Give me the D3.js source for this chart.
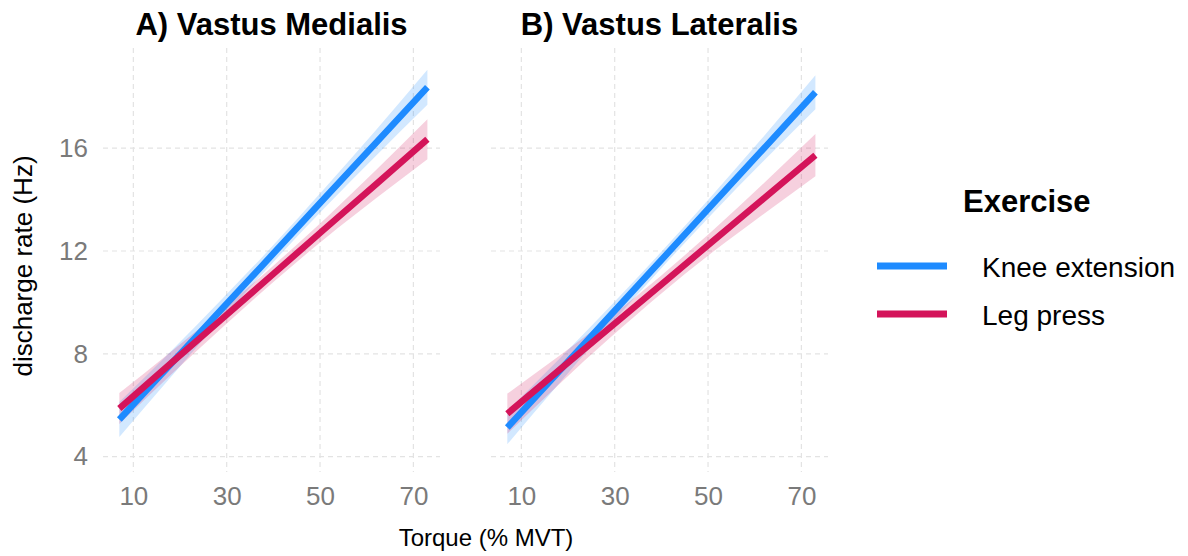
<!DOCTYPE html>
<html>
<head>
<meta charset="utf-8">
<script src="https://cdn.jsdelivr.net/npm/d3@7"></script>
<style>
  body { margin: 0; background: #fff; }
  text { font-family: "Liberation Sans", Arial, sans-serif; }
</style>
</head>
<body>
<div id="chart"></div>
<script>
// chart data
var torque = [7, 18, 29, 40, 51, 62, 73];

var vmKneeFit = [5.44, 7.59, 9.75, 11.90, 14.06, 16.21, 18.37];
var vmKneeHw  = [0.68, 0.50, 0.38, 0.33, 0.38, 0.50, 0.68];
var vmLegFit  = [5.87, 7.62, 9.36, 11.11, 12.86, 14.60, 16.35];
var vmLegHw   = [0.60, 0.45, 0.35, 0.32, 0.38, 0.55, 0.78];

var vlKneeFit = [5.13, 7.30, 9.48, 11.65, 13.83, 16.00, 18.18];
var vlKneeHw  = [0.65, 0.48, 0.36, 0.32, 0.36, 0.48, 0.66];
var vlLegFit  = [5.67, 7.35, 9.02, 10.70, 12.38, 14.05, 15.73];
var vlLegHw   = [0.78, 0.55, 0.40, 0.35, 0.42, 0.60, 0.82];

var xTicks = [10, 30, 50, 70];
var yTicks = [4, 8, 12, 16];
var exercises = ["Knee extension", "Leg press"];
var colors = ["#1E8BFF", "#D4145A"];

var panels = [
  { title: "A) Vastus Medialis", left: 103, series: [[vmKneeFit, vmKneeHw], [vmLegFit, vmLegHw]] },
  { title: "B) Vastus Lateralis", left: 491, series: [[vlKneeFit, vlKneeHw], [vlLegFit, vlLegHw]] }
];

var svgWidth = 1188, svgHeight = 556;
var panelW = 337, panelTop = 48, panelBottom = 472;

var svg = d3.select("#chart").append("svg")
  .attr("width", svgWidth)
  .attr("height", svgHeight);

var y = d3.scaleLinear().domain([3.4, 19.9]).range([panelBottom, panelTop]);

panels.forEach(function(p) {
  var x = d3.scaleLinear().domain([3.5, 75.7]).range([p.left, p.left + panelW]);
  var g = svg.append("g");

  // grid
  g.selectAll(".vgrid").data(xTicks).enter().append("line")
    .attr("x1", d => x(d)).attr("x2", d => x(d))
    .attr("y1", panelTop).attr("y2", panelBottom)
    .attr("stroke", "#e3e3e3").attr("stroke-width", 1.2)
    .attr("stroke-dasharray", "5,4");
  g.selectAll(".hgrid").data(yTicks).enter().append("line")
    .attr("x1", p.left).attr("x2", p.left + panelW)
    .attr("y1", d => y(d)).attr("y2", d => y(d))
    .attr("stroke", "#e3e3e3").attr("stroke-width", 1.2)
    .attr("stroke-dasharray", "5,4");

  // x tick labels
  var xAxis = d3.axisBottom(x).tickValues(xTicks).tickSize(0).tickPadding(0);
  var xa = g.append("g").attr("transform", `translate(0, 505)`).call(xAxis);
  xa.select(".domain").remove();
  xa.selectAll("text").attr("font-size", 26).attr("fill", "#7a7a7a")
    .attr("dy", 0).attr("y", 0);

  // ribbons then lines
  p.series.forEach(function(s, i) {
    var pts = torque.map((t, k) => ({ t: t, f: s[0][k], hw: s[1][k] }));
    var area = d3.area().curve(d3.curveMonotoneX)
      .x(d => x(d.t)).y0(d => y(d.f - d.hw)).y1(d => y(d.f + d.hw));
    g.append("path").datum(pts)
      .attr("d", area)
      .attr("fill", colors[i]).attr("fill-opacity", 0.2);
  });
  p.series.forEach(function(s, i) {
    var pts = torque.map((t, k) => ({ t: t, f: s[0][k] }));
    var line = d3.line().x(d => x(d.t)).y(d => y(d.f));
    g.append("path").datum(pts)
      .attr("d", line)
      .attr("fill", "none")
      .attr("stroke", colors[i]).attr("stroke-width", 6.5);
  });

  // panel title
  svg.append("text")
    .attr("x", p.left + panelW / 2).attr("y", 35)
    .attr("text-anchor", "middle")
    .attr("font-size", 31).attr("font-weight", "bold")
    .text(p.title);
});

// y tick labels (left panel only)
var yAxis = d3.axisLeft(y).tickValues(yTicks).tickSize(0).tickPadding(0);
var ya = svg.append("g").attr("transform", "translate(88, 0)").call(yAxis);
ya.select(".domain").remove();
ya.selectAll("text").attr("font-size", 26).attr("fill", "#7a7a7a");

// axis titles
svg.append("text")
  .attr("transform", "rotate(-90)")
  .attr("x", -266).attr("y", 32)
  .attr("text-anchor", "middle")
  .attr("font-size", 26)
  .text("discharge rate (Hz)");

svg.append("text")
  .attr("x", 486).attr("y", 546)
  .attr("text-anchor", "middle")
  .attr("font-size", 24)
  .text("Torque (% MVT)");

// legend
var legend = svg.append("g");
legend.append("text")
  .attr("x", 963).attr("y", 212)
  .attr("font-size", 31).attr("font-weight", "bold")
  .text("Exercise");

exercises.forEach(function(name, i) {
  var ly = 266 + i * 48;
  legend.append("line")
    .attr("x1", 877).attr("x2", 947)
    .attr("y1", ly).attr("y2", ly)
    .attr("stroke", colors[i]).attr("stroke-width", 7);
  legend.append("text")
    .attr("x", 982).attr("y", ly + 11)
    .attr("font-size", 28)
    .text(name);
});
</script>
</body>
</html>
